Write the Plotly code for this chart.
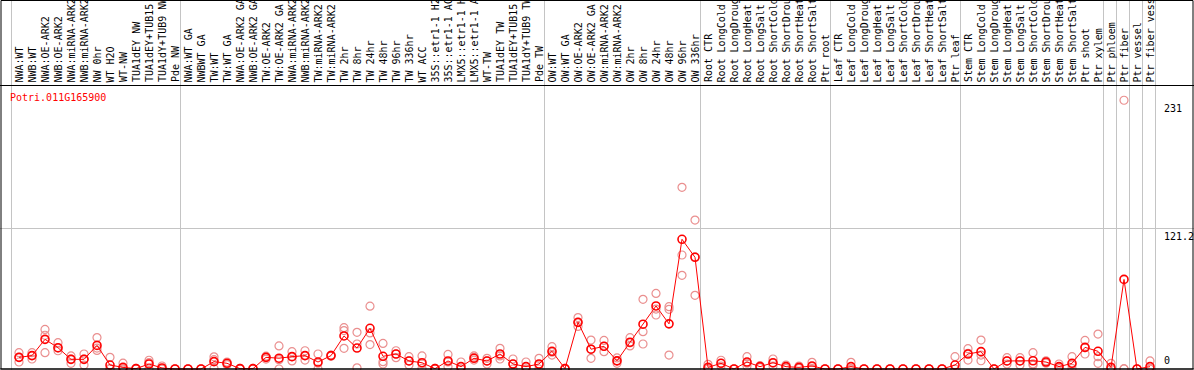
import plotly.graph_objects as go

gene = "Potri.011G165900"

samples = [
    "NWA:WT", "NWB:WT", "NWA:OE-ARK2", "NWB:OE-ARK2", "NWA:miRNA-ARK2", "NWB:miRNA-ARK2",
    "NW 0hr", "WT H2O", "WT-NW", "TUA1dEY NW", "TUA1dEY+TUB15 NW", "TUA1dY+TUB9 NW", "Pde NW",
    "NWA:WT GA", "NWBWT GA", "TW:WT", "TW:WT GA", "NWA:OE-ARK2 GA", "NWB:OE-ARK2 GA",
    "TW:OE-ARK2", "TW:OE-ARK2 GA", "NWA:miRNA-ARK2 GA", "NWB:miRNA-ARK2 GA", "TW:miRNA-ARK2",
    "TW:miRNA-ARK2", "TW 2hr", "TW 8hr", "TW 24hr", "TW 48hr", "TW 96hr", "TW 336hr", "WT ACC",
    "35S::etr1-1 H2O", "35S::etr1-1 ACC", "LMX5::etr1-1 H2O", "LMX5::etr1-1 ACC", "WT-TW",
    "TUA1dEY TW", "TUA1dEY+TUB15 TW", "TUA1dY+TUB9 TW", "Pde TW",
    "OW:WT", "OW:WT GA", "OW:OE-ARK2", "OW:OE-ARK2 GA", "OW:miRNA-ARK2", "OW:miRNA-ARK2",
    "OW 2hr", "OW 8hr", "OW 24hr", "OW 48hr", "OW 96hr", "OW 336hr",
    "Root CTR", "Root LongCold", "Root LongDrought", "Root LongHeat", "Root LongSalt",
    "Root ShortCold", "Root ShortDrought", "Root ShortHeat", "Root ShortSalt", "Ptr root",
    "Leaf CTR", "Leaf LongCold", "Leaf LongDrought", "Leaf LongHeat", "Leaf LongSalt",
    "Leaf ShortCold", "Leaf ShortDrought", "Leaf ShortHeat", "Leaf ShortSalt", "Ptr leaf",
    "Stem CTR", "Stem LongCold", "Stem LongDrought", "Stem LongHeat", "Stem LongSalt",
    "Stem ShortCold", "Stem ShortDrought", "Stem ShortHeat", "Stem ShortSalt",
    "Ptr shoot", "Ptr xylem", "Ptr phloem", "Ptr fiber", "Ptr vessel", "Ptr fiber vessel",
]

mean_values = [
    10.0, 11.5, 25.5, 18.3, 8.3, 8.3, 20.3, 3.4, 1.4, 0.3, 4.3, 0.9, 0.0,
    0.0, 0.0, 6.3, 4.9, 0.3, 0.3, 10.0, 9.3, 10.6, 11.5, 6.0, 11.5, 28.4, 18.0, 35.0,
    10.9, 12.9, 6.9, 5.4, 0.3, 6.9, 2.0, 9.2, 6.9, 12.9, 4.3, 2.0, 4.3,
    15.2, 0.3, 40.1, 17.0, 19.5, 7.0, 23.0, 38.5, 54.2, 38.8, 111.5, 96.0,
    1.4, 4.9, 0.0, 6.0, 2.0, 5.4, 2.0, 1.4, 2.6, 0.0,
    0.0, 2.0, 0.0, 0.0, 0.0, 0.0, 0.0, 0.0, 0.0, 3.4,
    12.9, 14.9, 0.0, 6.9, 6.9, 7.1, 6.0, 2.0, 4.9, 18.6, 15.2,
    1.4, 77.0, 0.0, 2.0,
]

rep1 = [
    14, 14, 34, 22.6, 11.2, 12.9, 27, 10, 5, 0.5, 7.5, 2.6, 0,
    0, 0, 10.5, 6, 0.5, 0.5, 11, 19.8, 14.9, 15.7, 12.9, 12, 35.5, 31.5, 54,
    22, 15.7, 10.6, 11.2, 0.5, 12.5, 6, 11.2, 9.2, 17.8, 8.6, 6, 9.2,
    19.2, 0.5, 44.2, 24.9, 24.6, 9.5, 26.9, 59.9, 65, 53.6, 156.2, 128,
    4, 7.5, 0, 10.6, 2.9, 8.6, 3.4, 2.6, 5.7, 0,
    0, 5.7, 0, 0, 0, 0, 0, 0, 0, 10.6,
    17.5, 24.9, 0, 9.7, 9.7, 14, 7, 4.3, 10.6, 24.6, 30,
    4.9, 231, 0, 6.9,
]

rep2 = [
    10, 11.5, 29, 18, 8.5, 8.5, 18, 0.5, 0, 0.3, 5.5, 0, 0,
    0, 0, 8, 5, 0.3, 0.3, 10, 8, 10.6, 11.5, 5, 11.5, 33, 21.5, 31,
    6.3, 12.9, 6.9, 4.3, 0.3, 6, 0, 10, 6.9, 11.2, 4.3, 0, 3.5,
    14.5, 0.3, 40, 17, 19.5, 7, 22.5, 32.1, 51.5, 51.3, 98, 96.5,
    0.3, 4.9, 0, 5, 2, 5, 2, 1, 2, 0,
    0, 0.3, 0, 0, 0, 0, 0, 0, 0, 0,
    13.5, 12, 0, 6.9, 7, 4.5, 6, 1.5, 3.5, 18.3, 10.6,
    0, 0.3, 0, 0,
]

rep3 = [
    6, 8.6, 14, 15.7, 4.9, 3.4, 16, 0, 0, 0, 0, 0, 0,
    0, 0, 0.5, 3.7, 0, 0, 8.5, 0, 6.9, 7.7, 0, 11, 17.8, 1, 21,
    4.3, 9.7, 3.4, 0.5, 0, 2, 0, 7.7, 4.3, 8.6, 0, 0, 0,
    12, 0, 36.6, 9.2, 14.9, 4.9, 19.8, 21.5, 46.4, 12, 80.5, 63.3,
    0, 2.5, 0, 2.6, 1.2, 2.6, 0.6, 0.6, 0.3, 0,
    0, 0, 0, 0, 0, 0, 0, 0, 0, 0,
    7.7, 7.1, 0, 4.3, 3.4, 3.4, 5, 0.3, 0.5, 12.9, 4.9,
    0, 0, 0, 0,
]

# group boundaries (after column number, 1-based)
boundaries = [0, 13, 41, 53, 63, 73, 84, 85, 86, 87, 88]
y_ticks = [0, 121.2, 231]
y_tick_text = ["0", "121.2", "231"]

W, H = 1194, 370
xs = list(range(len(samples)))

# pixel mapping: px = 19 + 13*x ; py(0)=369, py(121.2)=228
x_range = [-19 / 13, (W - 19) / 13]
k = 121.2 / 141.0
y_range = [(369 - H) * k, 369 * k]

font_mono = "DejaVu Sans Mono"
rep_color = "#ea8f8f"

fig = go.Figure()
for reps in (rep1, rep2, rep3):
    fig.add_trace(go.Scatter(
        x=xs, y=reps, mode="markers",
        marker=dict(symbol="circle-open", size=8, color=rep_color, line=dict(width=1.2, color=rep_color)),
        hoverinfo="skip", showlegend=False,
    ))
fig.add_trace(go.Scatter(
    x=xs, y=mean_values, mode="lines+markers",
    line=dict(color="#ff0000", width=1),
    marker=dict(symbol="circle-open", size=8, color="#ff0000", line=dict(width=1.6, color="#ff0000")),
    text=samples, showlegend=False,
))

annotations = []
for i, s in enumerate(samples):
    annotations.append(dict(
        x=i, xref="x", y=1 - 84.5 / H, yref="paper", text=s, showarrow=False,
        textangle=-90, xanchor="center", yanchor="bottom",
        font=dict(family=font_mono, size=10, color="black"),
    ))
annotations.append(dict(
    x=8 / W, xref="paper", y=1 - 97 / H, yref="paper", text=gene, showarrow=False,
    xanchor="left", yanchor="middle", font=dict(family=font_mono, size=10, color="#ff0000"),
))
for v, t in zip(y_ticks, y_tick_text):
    annotations.append(dict(
        x=1162 / W, xref="paper", y=v, yref="y", text=t, showarrow=False,
        xanchor="left", yanchor="bottom" if v == 0 else "top",
        yshift=1 if v == 0 else -1,
        font=dict(family=font_mono, size=10, color="black"),
    ))

shapes = [
    # header separator
    dict(type="line", xref="paper", yref="paper", x0=0, x1=1, y0=1 - 85.5 / H, y1=1 - 85.5 / H,
         line=dict(color="black", width=1)),
    # bottom axis line
    dict(type="line", xref="paper", yref="y", x0=0, x1=1, y0=0, y1=0, line=dict(color="black", width=1)),
    # frame
    dict(type="rect", xref="paper", yref="paper", x0=1 / W, x1=(W - 1) / W, y0=1 - 369 / H, y1=1 - 0.5 / H,
         line=dict(color="black", width=1)),
]

fig.update_layout(
    width=W, height=H, autosize=False,
    margin=dict(l=0, r=0, t=0, b=0, pad=0),
    paper_bgcolor="white", plot_bgcolor="white",
    xaxis=dict(range=x_range, showticklabels=False, zeroline=False, showline=False,
               tickvals=[b - 8 / 13 for b in boundaries], showgrid=True, gridcolor="#c4c4c4", gridwidth=1,
               fixedrange=True),
    yaxis=dict(range=y_range, showticklabels=False, zeroline=False, showline=False,
               tickvals=[121.2], showgrid=True, gridcolor="#c4c4c4", gridwidth=1, fixedrange=True),
    annotations=annotations, shapes=shapes,
    font=dict(family=font_mono),
)

fig.write_html(
    "out.html",
    config={"displayModeBar": False},
    post_script="document.body.style.margin='0px';document.body.style.overflow='hidden';",
)
